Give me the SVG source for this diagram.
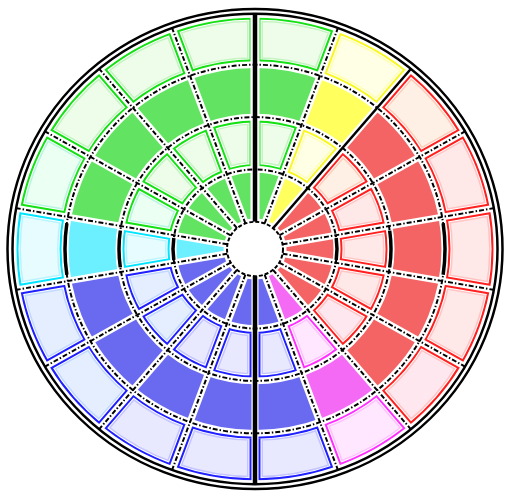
<svg xmlns="http://www.w3.org/2000/svg" xmlns:xlink="http://www.w3.org/1999/xlink" width="505" height="494" viewBox="0 0 505 494">
<style>
.rd .L,.rk .L{fill:#ffe8e8;stroke:#ff2020;color:#ffc4c4}
.rp .L{fill:#fff0e6;stroke:#ff2020;color:#ffccb8}
.rk .L{fill:#ffe7ef}
.rd .S,.rp .S,.rk .S{fill:#f46464}
.mg .L{fill:#ffe8ff;stroke:#ff30ff;color:#ffc0ff}
.mg .S{fill:#f46af4}
.bl .L,.bc .L{fill:#e8e8ff;stroke:#2020ff;color:#c4c4ff}
.bc .L{fill:#e4eeff;color:#c0d8ff}
.bl .S,.bc .S{fill:#6a6af0}
.cy .L{fill:#e6fcff;stroke:#00e4ff;color:#b8f4ff}
.cy .S{fill:#6cf0ff}
.gr .L,.gc .L{fill:#eefdea;stroke:#14e014;color:#c4f4c0}
.gc .L{fill:#ebfff2;color:#b8f4e0}
.gr .S,.gc .S{fill:#62e462}
.ye .L{fill:#ffffe6;stroke:#f8f820;color:#ffffb0}
.ye .S{fill:#ffff5e}
.wu{stroke:#fff;stroke-width:7;fill:none}
.dl{stroke:#000;stroke-width:2;fill:none;stroke-dasharray:5 2 1.5 2}
.sl{stroke:#000;fill:none}
</style>
<defs>
<path id="pA" d="M238.32,-42.02 A242,242 0 0 1 238.32,42.02 L187.11,32.99 A190,190 0 0 0 187.11,-32.99 Z"/>
<path id="pB" d="M187.11,-32.99 A190,190 0 0 1 187.11,32.99 L133.93,23.62 A136,136 0 0 0 133.93,-23.62 Z"/>
<path id="pC" d="M133.93,-23.62 A136,136 0 0 1 133.93,23.62 L80.75,14.24 A82,82 0 0 0 80.75,-14.24 Z"/>
<path id="pD" d="M80.75,-14.24 A82,82 0 0 1 80.75,14.24 L27.57,4.86 A28,28 0 0 0 27.57,-4.86 Z"/>
<clipPath id="cA"><use xlink:href="#pA"/></clipPath>
<clipPath id="cC"><use xlink:href="#pC"/></clipPath>
<g id="A" clip-path="url(#cA)">
<use xlink:href="#pA" stroke="currentColor" stroke-width="16"/>
<use xlink:href="#pA" fill="none" stroke="#fff" stroke-width="13"/>
<use xlink:href="#pA" fill="none" stroke-width="11"/>
</g>
<g id="C" clip-path="url(#cC)">
<use xlink:href="#pC" stroke="currentColor" stroke-width="16"/>
<use xlink:href="#pC" fill="none" stroke="#fff" stroke-width="13"/>
<use xlink:href="#pC" fill="none" stroke-width="11"/>
</g>
<line id="rl" x1="28" y1="0" x2="242" y2="0"/>
</defs>
<rect width="505" height="494" fill="#fff"/>
<g transform="translate(255,249) scale(1,0.97)">
<g id="cells">
<g id="s0" class="rd" transform="rotate(0)"><use class="L" xlink:href="#A"/><use class="S" xlink:href="#pB"/><use class="L" xlink:href="#C"/><use class="S" xlink:href="#pD"/></g>
<g id="s20" class="rd" transform="rotate(-20)"><use class="L" xlink:href="#A"/><use class="S" xlink:href="#pB"/><use class="L" xlink:href="#C"/><use class="S" xlink:href="#pD"/></g>
<g id="s40" class="rp" transform="rotate(-40)"><use class="L" xlink:href="#A"/><use class="S" xlink:href="#pB"/><use class="L" xlink:href="#C"/><use class="S" xlink:href="#pD"/></g>
<g id="s60" class="ye" transform="rotate(-60)"><use class="L" xlink:href="#A"/><use class="S" xlink:href="#pB"/><use class="L" xlink:href="#C"/><use class="S" xlink:href="#pD"/></g>
<g id="s80" class="gr" transform="rotate(-80)"><use class="L" xlink:href="#A"/><use class="S" xlink:href="#pB"/><use class="L" xlink:href="#C"/><use class="S" xlink:href="#pD"/></g>
<g id="s100" class="gr" transform="rotate(-100)"><use class="L" xlink:href="#A"/><use class="S" xlink:href="#pB"/><use class="L" xlink:href="#C"/><use class="S" xlink:href="#pD"/></g>
<g id="s120" class="gr" transform="rotate(-120)"><use class="L" xlink:href="#A"/><use class="S" xlink:href="#pB"/><use class="L" xlink:href="#C"/><use class="S" xlink:href="#pD"/></g>
<g id="s140" class="gr" transform="rotate(-140)"><use class="L" xlink:href="#A"/><use class="S" xlink:href="#pB"/><use class="L" xlink:href="#C"/><use class="S" xlink:href="#pD"/></g>
<g id="s160" class="gc" transform="rotate(-160)"><use class="L" xlink:href="#A"/><use class="S" xlink:href="#pB"/><use class="L" xlink:href="#C"/><use class="S" xlink:href="#pD"/></g>
<g id="s180" class="cy" transform="rotate(-180)"><use class="L" xlink:href="#A"/><use class="S" xlink:href="#pB"/><use class="L" xlink:href="#C"/><use class="S" xlink:href="#pD"/></g>
<g id="s200" class="bc" transform="rotate(-200)"><use class="L" xlink:href="#A"/><use class="S" xlink:href="#pB"/><use class="L" xlink:href="#C"/><use class="S" xlink:href="#pD"/></g>
<g id="s220" class="bc" transform="rotate(-220)"><use class="L" xlink:href="#A"/><use class="S" xlink:href="#pB"/><use class="L" xlink:href="#C"/><use class="S" xlink:href="#pD"/></g>
<g id="s240" class="bl" transform="rotate(-240)"><use class="L" xlink:href="#A"/><use class="S" xlink:href="#pB"/><use class="L" xlink:href="#C"/><use class="S" xlink:href="#pD"/></g>
<g id="s260" class="bl" transform="rotate(-260)"><use class="L" xlink:href="#A"/><use class="S" xlink:href="#pB"/><use class="L" xlink:href="#C"/><use class="S" xlink:href="#pD"/></g>
<g id="s280" class="bl" transform="rotate(-280)"><use class="L" xlink:href="#A"/><use class="S" xlink:href="#pB"/><use class="L" xlink:href="#C"/><use class="S" xlink:href="#pD"/></g>
<g id="s300" class="mg" transform="rotate(-300)"><use class="L" xlink:href="#A"/><use class="S" xlink:href="#pB"/><use class="L" xlink:href="#C"/><use class="S" xlink:href="#pD"/></g>
<g id="s320" class="rk" transform="rotate(-320)"><use class="L" xlink:href="#A"/><use class="S" xlink:href="#pB"/><use class="L" xlink:href="#C"/><use class="S" xlink:href="#pD"/></g>
<g id="s340" class="rd" transform="rotate(-340)"><use class="L" xlink:href="#A"/><use class="S" xlink:href="#pB"/><use class="L" xlink:href="#C"/><use class="S" xlink:href="#pD"/></g>
</g>
<g id="grid">
<g class="wu">
<circle r="82"/><circle r="136"/><circle r="190"/><circle r="242"/><circle r="28"/>
<use xlink:href="#rl" transform="rotate(-10)"/><use xlink:href="#rl" transform="rotate(-30)"/><use xlink:href="#rl" transform="rotate(-50)"/><use xlink:href="#rl" transform="rotate(-70)"/><use xlink:href="#rl" transform="rotate(-90)" stroke-width="9"/><use xlink:href="#rl" transform="rotate(-110)"/><use xlink:href="#rl" transform="rotate(-130)"/><use xlink:href="#rl" transform="rotate(-150)"/><use xlink:href="#rl" transform="rotate(-170)"/><use xlink:href="#rl" transform="rotate(-190)"/><use xlink:href="#rl" transform="rotate(-210)"/><use xlink:href="#rl" transform="rotate(-230)"/><use xlink:href="#rl" transform="rotate(-250)"/><use xlink:href="#rl" transform="rotate(-270)"/><use xlink:href="#rl" transform="rotate(-290)"/><use xlink:href="#rl" transform="rotate(-310)"/><use xlink:href="#rl" transform="rotate(-330)"/><use xlink:href="#rl" transform="rotate(-350)"/>
</g>
<g class="dl">
<circle r="82"/><circle r="136"/><circle r="190"/>
<use xlink:href="#rl" transform="rotate(-10)"/><use xlink:href="#rl" transform="rotate(-30)"/><use xlink:href="#rl" transform="rotate(-70)"/><use xlink:href="#rl" transform="rotate(-110)"/><use xlink:href="#rl" transform="rotate(-130)"/><use xlink:href="#rl" transform="rotate(-150)"/><use xlink:href="#rl" transform="rotate(-170)"/><use xlink:href="#rl" transform="rotate(-190)"/><use xlink:href="#rl" transform="rotate(-210)"/><use xlink:href="#rl" transform="rotate(-230)"/><use xlink:href="#rl" transform="rotate(-250)"/><use xlink:href="#rl" transform="rotate(-290)"/><use xlink:href="#rl" transform="rotate(-310)"/><use xlink:href="#rl" transform="rotate(-330)"/><use xlink:href="#rl" transform="rotate(-350)"/>
</g>
<g class="sl">
<use xlink:href="#rl" transform="rotate(-90)" stroke-width="4.5"/>
<use xlink:href="#rl" transform="rotate(-270)" stroke-width="4.5"/>
<use xlink:href="#rl" transform="rotate(-50)" stroke-width="2.5"/>
<path stroke-width="3.5" d="M81.2,-11.41 A82,82 0 0 1 81.2,11.41 M134.68,-18.93 A136,136 0 0 1 134.68,18.93 M188.15,-26.44 A190,190 0 0 1 188.15,26.44 M-81.2,-11.41 A82,82 0 0 0 -81.2,11.41 M-134.68,-18.93 A136,136 0 0 0 -134.68,18.93 M-188.15,-26.44 A190,190 0 0 0 -188.15,26.44"/>
<circle r="247.5" stroke-width="2.5"/>
<circle r="242.5" stroke-width="2.5"/>
</g>
<circle r="28" fill="#fff" stroke="#000" stroke-width="2" stroke-dasharray="4 2"/>
</g>
</g>
</svg>
